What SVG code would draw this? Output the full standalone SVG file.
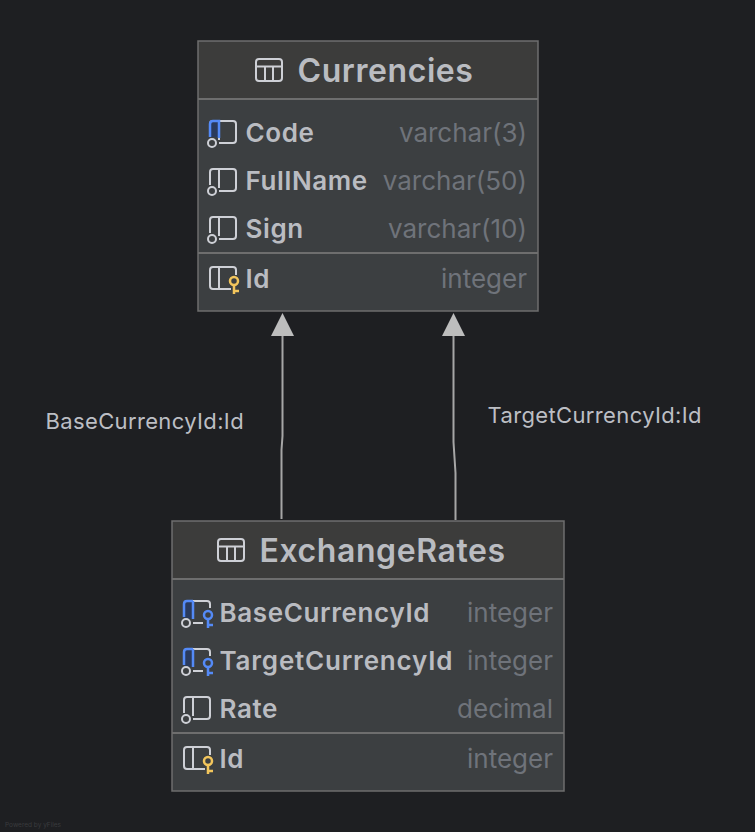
<svg xmlns="http://www.w3.org/2000/svg" width="755" height="832" viewBox="0 0 755 832">
<style>
text{font-family:Inter,"Noto Sans",sans-serif}
.title{font-size:32px;font-weight:600;fill:#babcc1;letter-spacing:.58px}
.col{font-size:26px;font-weight:600;fill:#babcc1;letter-spacing:.62px}
.wide{letter-spacing:.8px}
.type{font-size:26px;fill:#6f737a;text-anchor:end}
.lbl{font-size:22px;fill:#bcbec4;letter-spacing:.36px}
.box{fill:#3c3f41;stroke:#6e6e6e;stroke-width:1.5}
.hdr{fill:#3c3c3b}
.sep{stroke:#6e6e6e;stroke-width:2;fill:none}
.ic{fill:none;stroke:#ced0d6;stroke-width:2;stroke-linejoin:round}
.pk{fill:none;stroke:#f2c55c;stroke-width:2.500}
.fk{fill:none;stroke:#548af7;stroke-width:2.500}
.fkfill{fill:#2a3a5c}
.conn{fill:none;stroke:#a6a6a6;stroke-width:2}
.head{fill:#bdbdbd}
</style>
<defs>
<g id="tbl"><rect class="ic" x="1" y="1" width="26" height="22" rx="3"/><path class="ic" d="M1 8.500H27M10 8.500V23M18 8.500V23"/></g>
<g id="colic"><path class="ic" d="M10 23H24Q27 23 27 20V4Q27 1 24 1H4Q1 1 1 4V17M10 1V20"/><circle class="ic" cx="3" cy="23" r="4"/></g>
<g id="idic"><path class="ic" d="M22 23H4Q1 23 1 20V4Q1 1 4 1H24Q27 1 27 4V9M10 1V23"/><circle class="pk" cx="25" cy="15" r="4"/><path class="pk" d="M25 19V28M25 25H30"/></g>
<g id="fkic"><path class="fkfill" d="M1 18V4Q1 1 4 1H10V19Z"/><path class="ic" d="M10 23H20M10 1H24Q27 1 27 4V8"/><path class="fk" d="M10 1H4Q1 1 1 4V17M10 1V19"/><circle class="ic" cx="3" cy="23" r="4"/><circle class="fk" cx="25" cy="15" r="4"/><path class="fk" d="M25 19V28M25 25H30"/></g>
</defs>
<rect width="755" height="832" fill="#1e1f22"/>
<g id="connectors">
<path class="conn" d="M282.500 336V436L281.500 450V519"/>
<path class="head" d="M282.500 313L294 336H271Z"/>
<path class="conn" d="M453.500 336V442L455.500 473V520"/>
<path class="head" d="M453.500 313L465 336H442Z"/>
</g>
<g id="currencies">
<rect class="box" x="198" y="41" width="340" height="270"/>
<rect class="hdr" x="199" y="42" width="338" height="57"/>
<path class="sep" d="M198 99H538M198 253H538"/>
<use href="#tbl" x="255" y="58"/>
<text class="title" x="297.500" y="81.500">Currencies</text>
<use href="#colic" x="209" y="120"/>
<path class="fkfill" d="M210 137V124Q210 121 213 121H219V137Z"/>
<path class="fk" d="M210 137V124Q210 121 213 121H219V138"/>
<text class="col" x="245.500" y="142">Code</text><text class="type" x="527" y="142">varchar(3)</text>
<use href="#colic" x="209" y="168"/>
<text class="col" x="245.500" y="190">FullName</text><text class="type" x="527" y="190">varchar(50)</text>
<use href="#colic" x="209" y="216"/>
<text class="col" x="245.500" y="238">Sign</text><text class="type" x="527" y="238">varchar(10)</text>
<use href="#idic" x="209" y="266"/>
<text class="col" x="245.500" y="288">Id</text><text class="type" x="527" y="288">integer</text>
</g>
<g id="exchangerates">
<rect class="box" x="172" y="521" width="392" height="270"/>
<rect class="hdr" x="173" y="522" width="390" height="57"/>
<path class="sep" d="M172 579H564M172 733H564"/>
<use href="#tbl" x="217" y="538"/>
<text class="title" x="259.500" y="562">ExchangeRates</text>
<use href="#fkic" x="183" y="600"/>
<text class="col" x="219.500" y="622">BaseCurrencyId</text><text class="type" x="553" y="622">integer</text>
<use href="#fkic" x="183" y="648"/>
<text class="col wide" x="219.500" y="670">TargetCurrencyId</text><text class="type" x="553" y="670">integer</text>
<use href="#colic" x="183" y="696"/>
<text class="col" x="219.500" y="718">Rate</text><text class="type" x="553" y="718">decimal</text>
<use href="#idic" x="183" y="746"/>
<text class="col" x="219.500" y="768">Id</text><text class="type" x="553" y="768">integer</text>
</g>
<text class="lbl" x="45.500" y="429">BaseCurrencyId:Id</text>
<text class="lbl" x="487.500" y="423">TargetCurrencyId:Id</text>
<text x="5" y="827" font-size="6.500" fill="#3a3b3e">Powered by yFiles</text>
</svg>
